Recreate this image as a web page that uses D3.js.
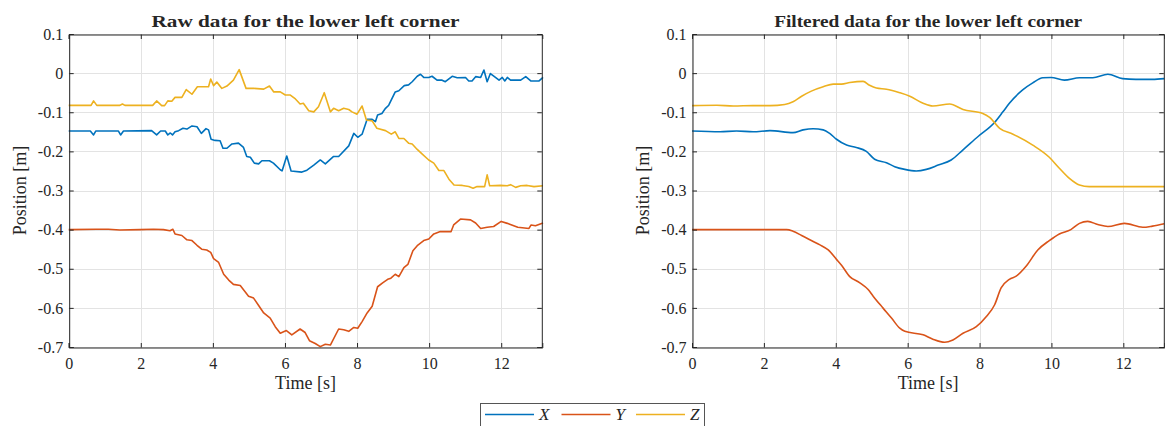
<!DOCTYPE html>
<html>
<head>
<meta charset="utf-8">
<script src="https://cdn.jsdelivr.net/npm/d3@7"></script>
<style>
  html, body { margin: 0; padding: 0; background: #fff; }
  svg { display: block; }
</style>
</head>
<body>
<svg id="chart" width="1165" height="426"></svg>
<script>
// Time axis and ticks
const timeEnd = 13.14;
const xTicks = [0, 2, 4, 6, 8, 10, 12];
const yTicks = [0.1, 0, -0.1, -0.2, -0.3, -0.4, -0.5, -0.6, -0.7];
const yTickLabels = ["0.1", "0", "-0.1", "-0.2", "-0.3", "-0.4", "-0.5", "-0.6", "-0.7"];
const seriesNames = ["X", "Y", "Z"];
const seriesColors = ["#0072BD", "#D95319", "#EDB120"];

// Raw measurements, lower left corner
const rawXTime = [0,0.6,0.69,0.75,1.38,1.44,1.52,2.3,2.44,2.55,2.68,2.75,2.82,2.88,2.95,3.05,3.17,3.28,3.42,3.56,3.68,3.81,3.88,3.95,4.06,4.2,4.28,4.39,4.53,4.71,4.85,4.94,5.04,5.15,5.27,5.36,5.57,5.68,5.87,5.92,6.05,6.17,6.47,6.61,6.8,6.98,7.12,7.35,7.49,7.77,7.91,8.02,8.14,8.28,8.42,8.51,8.57,8.69,8.79,8.88,9.06,9.16,9.31,9.43,9.53,9.67,9.76,9.85,9.99,10.08,10.22,10.36,10.45,10.64,10.78,11.01,11.1,11.19,11.29,11.43,11.52,11.61,11.7,11.84,11.94,12.03,12.1,12.17,12.26,12.54,12.68,12.82,13.05,13.16];
const rawX = [-0.148,-0.148,-0.158,-0.148,-0.148,-0.158,-0.148,-0.147,-0.158,-0.148,-0.148,-0.158,-0.153,-0.158,-0.150,-0.147,-0.141,-0.143,-0.135,-0.137,-0.154,-0.142,-0.145,-0.169,-0.172,-0.173,-0.192,-0.192,-0.181,-0.179,-0.190,-0.213,-0.215,-0.230,-0.232,-0.224,-0.224,-0.230,-0.247,-0.250,-0.212,-0.250,-0.253,-0.248,-0.235,-0.222,-0.232,-0.213,-0.213,-0.186,-0.154,-0.164,-0.156,-0.118,-0.118,-0.124,-0.107,-0.103,-0.090,-0.082,-0.048,-0.045,-0.032,-0.030,-0.022,-0.008,-0.003,-0.011,-0.011,-0.008,-0.018,-0.018,-0.022,-0.008,-0.012,-0.011,-0.020,-0.020,-0.009,-0.011,0.008,-0.022,-0.001,-0.011,-0.018,-0.011,-0.020,-0.011,-0.018,-0.018,-0.009,-0.020,-0.020,-0.011];

const rawYTime = [0,0.76,1.1,1.42,1.98,2.35,2.63,2.81,2.89,2.95,3.14,3.28,3.42,3.56,3.69,3.83,3.94,4.02,4.16,4.3,4.44,4.57,4.76,4.99,5.13,5.27,5.41,5.59,5.73,5.87,6.04,6.19,6.42,6.56,6.68,6.84,6.98,7.12,7.26,7.49,7.63,7.77,7.91,8.02,8.14,8.28,8.42,8.57,8.71,8.85,8.94,9.06,9.16,9.3,9.41,9.55,9.67,9.85,9.99,10.13,10.31,10.61,10.68,10.87,11.15,11.29,11.43,11.61,11.79,12.0,12.17,12.46,12.77,12.83,12.95,13.16];
const rawY = [-0.400,-0.399,-0.399,-0.401,-0.400,-0.399,-0.400,-0.403,-0.399,-0.411,-0.415,-0.426,-0.428,-0.440,-0.450,-0.452,-0.458,-0.474,-0.484,-0.514,-0.529,-0.540,-0.543,-0.570,-0.575,-0.594,-0.613,-0.626,-0.648,-0.665,-0.658,-0.669,-0.654,-0.663,-0.684,-0.691,-0.699,-0.693,-0.695,-0.654,-0.656,-0.660,-0.650,-0.652,-0.635,-0.613,-0.596,-0.546,-0.536,-0.527,-0.524,-0.514,-0.520,-0.497,-0.489,-0.454,-0.441,-0.428,-0.424,-0.411,-0.405,-0.405,-0.388,-0.373,-0.375,-0.383,-0.397,-0.394,-0.392,-0.379,-0.384,-0.394,-0.397,-0.388,-0.390,-0.383];

const rawZTime = [0,0.62,0.69,0.78,1.42,1.49,1.56,2.33,2.44,2.58,2.66,2.75,2.86,2.95,3.14,3.26,3.42,3.57,3.88,3.94,4.02,4.11,4.25,4.39,4.57,4.73,4.92,5.13,5.41,5.57,5.69,5.87,6.01,6.15,6.29,6.42,6.51,6.66,6.8,6.93,7.09,7.26,7.35,7.49,7.63,7.77,7.86,8.0,8.14,8.26,8.42,8.55,8.79,8.95,9.06,9.16,9.3,9.43,9.53,9.67,9.81,9.99,10.13,10.27,10.41,10.55,10.69,10.92,11.1,11.22,11.33,11.47,11.54,11.61,11.68,11.98,12.17,12.26,12.4,12.54,12.72,12.91,13.16];
const rawZ = [-0.0825,-0.0825,-0.071,-0.0825,-0.0825,-0.079,-0.0825,-0.0825,-0.071,-0.083,-0.083,-0.071,-0.072,-0.062,-0.062,-0.042,-0.054,-0.035,-0.035,-0.015,-0.032,-0.023,-0.039,-0.033,-0.018,0.009,-0.039,-0.039,-0.041,-0.033,-0.048,-0.048,-0.056,-0.056,-0.066,-0.079,-0.077,-0.096,-0.099,-0.086,-0.050,-0.099,-0.090,-0.096,-0.090,-0.093,-0.099,-0.105,-0.084,-0.120,-0.122,-0.141,-0.147,-0.156,-0.150,-0.167,-0.167,-0.179,-0.181,-0.195,-0.207,-0.222,-0.230,-0.249,-0.249,-0.271,-0.286,-0.287,-0.290,-0.294,-0.290,-0.290,-0.290,-0.260,-0.288,-0.287,-0.288,-0.285,-0.292,-0.288,-0.287,-0.290,-0.288];

// Filtered estimates, lower left corner
const filtXTime = [0,0.78,1.24,1.7,2.17,2.81,3.09,3.37,3.65,3.83,4.02,4.3,4.57,4.85,5.08,5.41,5.64,5.92,6.24,6.52,6.85,7.21,7.54,7.96,8.41,8.65,8.83,9.2,9.48,9.76,9.99,10.36,10.78,11.15,11.57,11.98,12.35,12.81,13.14];
const filtX = [-0.148,-0.150,-0.148,-0.150,-0.147,-0.152,-0.145,-0.142,-0.145,-0.154,-0.169,-0.184,-0.190,-0.200,-0.220,-0.229,-0.239,-0.246,-0.250,-0.246,-0.235,-0.222,-0.196,-0.162,-0.127,-0.099,-0.077,-0.043,-0.025,-0.012,-0.011,-0.018,-0.012,-0.012,-0.003,-0.014,-0.016,-0.016,-0.014];

const filtYTime = [0,2.63,2.81,3.05,3.32,3.56,3.79,4.02,4.16,4.39,4.67,4.9,5.04,5.31,5.55,5.78,5.92,6.43,6.7,7.03,7.26,7.54,7.91,8.19,8.42,8.6,8.83,9.02,9.3,9.62,9.94,10.22,10.54,10.78,11.01,11.29,11.57,12.03,12.54,12.81,13.14];
const filtY = [-0.400,-0.400,-0.404,-0.415,-0.428,-0.439,-0.452,-0.476,-0.491,-0.520,-0.536,-0.553,-0.570,-0.600,-0.626,-0.652,-0.660,-0.669,-0.680,-0.688,-0.682,-0.665,-0.648,-0.622,-0.592,-0.549,-0.527,-0.519,-0.493,-0.452,-0.428,-0.411,-0.400,-0.384,-0.379,-0.387,-0.392,-0.384,-0.394,-0.391,-0.385];

const filtZTime = [0,0.69,1.15,1.7,2.17,2.58,2.81,3.05,3.32,3.65,3.93,4.16,4.39,4.76,4.94,5.13,5.41,5.78,6.06,6.43,6.7,7.17,7.54,8.09,8.28,8.56,8.93,9.48,9.94,10.22,10.5,10.78,11.05,11.7,13.14];
const filtZ = [-0.083,-0.082,-0.084,-0.083,-0.083,-0.080,-0.073,-0.059,-0.046,-0.035,-0.028,-0.028,-0.024,-0.021,-0.031,-0.038,-0.041,-0.050,-0.059,-0.077,-0.084,-0.079,-0.093,-0.103,-0.113,-0.141,-0.156,-0.184,-0.215,-0.243,-0.269,-0.286,-0.290,-0.290,-0.290];

const FONT = '"Liberation Serif", "DejaVu Serif", serif';
const svg = d3.select("#chart");
const plotTop = 34, plotBottom = 347;
const axisColor = "#262626";
const gridColor = "#e3e3e3";

function zip(t, v) { return t.map((d, i) => [d, v[i]]); }

function drawPanel(left, right, title, series, curve) {
  const x = d3.scaleLinear().domain([0, timeEnd]).range([left, right]);
  const y = d3.scaleLinear().domain([-0.7, 0.1]).range([plotBottom, plotTop]);
  const g = svg.append("g");

  // grid
  g.append("g").selectAll("line").data(xTicks).join("line")
    .attr("x1", d => Math.round(x(d)) + 0.5).attr("x2", d => Math.round(x(d)) + 0.5)
    .attr("y1", plotTop).attr("y2", plotBottom)
    .attr("stroke", gridColor).attr("stroke-width", 1);
  g.append("g").selectAll("line").data(yTicks).join("line")
    .attr("x1", left).attr("x2", right)
    .attr("y1", d => Math.round(y(d)) + 0.5).attr("y2", d => Math.round(y(d)) + 0.5)
    .attr("stroke", gridColor).attr("stroke-width", 1);

  // data lines
  const line = d3.line().x(d => x(d[0])).y(d => y(d[1])).curve(curve);
  series.forEach((s, i) => {
    g.append("path").datum(zip(s[0], s[1]))
      .attr("fill", "none").attr("stroke", seriesColors[i])
      .attr("stroke-width", 1.6).attr("stroke-linejoin", "round")
      .attr("d", line);
  });

  // axes (ticks pointing inward)
  const tickLen = 4.5;
  const xAxisBottom = d3.axisBottom(x).tickValues(xTicks).tickSize(-tickLen).tickPadding(6 + tickLen).tickFormat(d3.format("d"));
  const gx = g.append("g").attr("transform", `translate(0,${plotBottom + 0.5})`).call(xAxisBottom);
  const xAxisTop = d3.axisTop(x).tickValues(xTicks).tickSize(-tickLen).tickFormat("");
  const gxt = g.append("g").attr("transform", `translate(0,${plotTop + 0.5})`).call(xAxisTop);
  const yAxisLeft = d3.axisLeft(y).tickValues(yTicks).tickSize(-tickLen).tickPadding(1.5 + tickLen)
    .tickFormat((d, i) => yTickLabels[i]);
  const gy = g.append("g").attr("transform", `translate(${left + 0.5},0)`).call(yAxisLeft);
  const yAxisRight = d3.axisRight(y).tickValues(yTicks).tickSize(-tickLen).tickFormat("");
  const gyr = g.append("g").attr("transform", `translate(${right - 0.5},0)`).call(yAxisRight);

  [gx, gxt, gy, gyr].forEach(a => {
    a.attr("font-family", FONT).attr("font-size", 16);
    a.select(".domain").attr("stroke", axisColor).attr("stroke-width", 1);
    a.selectAll(".tick line").attr("stroke", axisColor).attr("stroke-width", 1);
    a.selectAll(".tick text").attr("fill", axisColor);
  });

  // title and labels
  const cx = (left + right) / 2;
  g.append("text").attr("x", cx).attr("y", 27).attr("text-anchor", "middle")
    .attr("font-family", FONT).attr("font-size", 17).attr("font-weight", "bold")
    .attr("fill", axisColor)
    .attr("textLength", 308).attr("lengthAdjust", "spacingAndGlyphs")
    .text(title);
  g.append("text").attr("x", cx).attr("y", 389).attr("text-anchor", "middle")
    .attr("font-family", FONT).attr("font-size", 18).attr("fill", axisColor)
    .text("Time [s]");
  g.append("text")
    .attr("transform", `translate(${left - 43},${(plotTop + plotBottom) / 2}) rotate(-90)`)
    .attr("text-anchor", "middle")
    .attr("font-family", FONT).attr("font-size", 18).attr("fill", axisColor)
    .text("Position [m]");
}

drawPanel(68.7, 542.3, "Raw data for the lower left corner",
  [[rawXTime, rawX], [rawYTime, rawY], [rawZTime, rawZ]], d3.curveLinear);
drawPanel(692, 1164.3, "Filtered data for the lower left corner",
  [[filtXTime, filtX], [filtYTime, filtY], [filtZTime, filtZ]], d3.curveMonotoneX);

// legend
const legend = svg.append("g");
legend.append("rect").attr("x", 480.5).attr("y", 403.5).attr("width", 224).attr("height", 40)
  .attr("fill", "#fff").attr("stroke", "#555").attr("stroke-width", 1);
const legendLineStart = [485, 561.5, 636];
seriesNames.forEach((name, i) => {
  legend.append("line")
    .attr("x1", legendLineStart[i]).attr("x2", legendLineStart[i] + 49)
    .attr("y1", 414.5).attr("y2", 414.5)
    .attr("stroke", seriesColors[i]).attr("stroke-width", 1.6);
  legend.append("text")
    .attr("x", legendLineStart[i] + 54).attr("y", 419.5)
    .attr("font-family", FONT).attr("font-size", 17).attr("font-style", "italic")
    .attr("fill", axisColor)
    .text(name);
});
</script>
</body>
</html>
